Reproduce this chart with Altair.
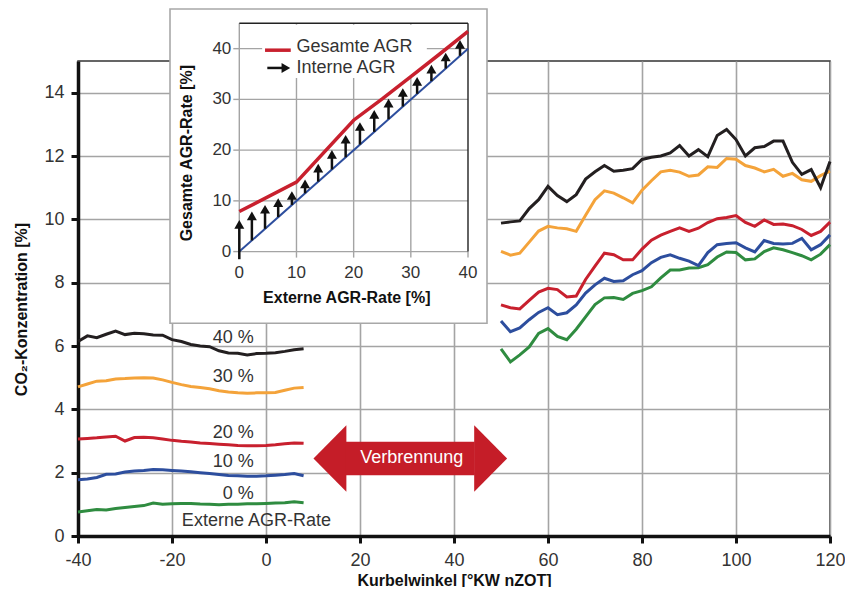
import altair as alt
import pandas as pd

FONT = "Liberation Sans"

# ---------------- main chart data ----------------
X_LEFT = [-40, -38, -36, -34, -32, -30, -28, -26, -24, -22, -20, -18, -16, -14, -12,
          -10, -8, -6, -4, -2, 0, 2, 4, 6, 8]
X_RIGHT = [50, 52, 54, 56, 58, 60, 62, 64, 66, 68, 70, 72, 74, 76, 78, 80, 82, 84,
           86, 88, 90, 92, 94, 96, 98, 100, 102, 104, 106, 108, 110, 112, 114, 116, 118, 120]

S40_L = [6.14, 6.32, 6.26, 6.37, 6.47, 6.36, 6.40, 6.39, 6.35, 6.34, 6.20, 6.14, 6.05,
         6.00, 5.98, 5.85, 5.78, 5.77, 5.72, 5.76, 5.77, 5.79, 5.83, 5.88, 5.91]
S30_L = [4.71, 4.80, 4.89, 4.90, 4.96, 4.97, 4.99, 5.00, 4.99, 4.93, 4.85, 4.78, 4.72,
         4.69, 4.65, 4.59, 4.55, 4.52, 4.51, 4.52, 4.52, 4.53, 4.60, 4.67, 4.69]
S20_L = [3.06, 3.08, 3.10, 3.13, 3.15, 3.00, 3.11, 3.12, 3.10, 3.06, 3.02, 2.99, 2.97,
         2.94, 2.92, 2.90, 2.88, 2.86, 2.85, 2.85, 2.86, 2.88, 2.91, 2.94, 2.93]
S10_L = [1.78, 1.80, 1.85, 1.95, 1.96, 2.02, 2.05, 2.07, 2.10, 2.09, 2.07, 2.05, 2.03,
         2.00, 1.97, 1.94, 1.91, 1.90, 1.89, 1.89, 1.90, 1.92, 1.94, 1.97, 1.90]
S0_L = [0.76, 0.80, 0.84, 0.82, 0.87, 0.90, 0.93, 0.96, 1.04, 1.00, 1.02, 1.03, 1.03,
        1.01, 1.00, 0.99, 1.00, 1.00, 1.02, 1.02, 1.03, 1.04, 1.05, 1.08, 1.05]

S40_R = [9.88, 9.92, 9.95, 10.34, 10.62, 11.04, 10.75, 10.56, 10.78, 11.27, 11.50, 11.70,
         11.52, 11.55, 11.60, 11.89, 11.96, 12.00, 12.10, 12.33, 12.00, 12.20, 11.98, 12.65,
         12.84, 12.52, 12.00, 12.26, 12.30, 12.47, 12.47, 11.80, 11.42, 11.57, 11.00, 11.83]
S30_R = [8.99, 8.87, 8.93, 9.28, 9.63, 9.78, 9.73, 9.70, 9.62, 10.13, 10.62, 10.90, 10.83,
         10.68, 10.52, 10.92, 11.22, 11.50, 11.55, 11.49, 11.36, 11.40, 11.66, 11.64, 11.92,
         11.90, 11.70, 11.62, 11.50, 11.58, 11.36, 11.45, 11.25, 11.20, 11.38, 11.52]
S20_R = [7.30, 7.21, 7.17, 7.44, 7.70, 7.82, 7.78, 7.55, 7.58, 8.10, 8.52, 8.93, 8.88,
         8.72, 8.72, 9.06, 9.34, 9.50, 9.62, 9.73, 9.62, 9.72, 9.90, 10.02, 10.06, 10.12,
         9.90, 9.78, 9.98, 9.84, 9.85, 9.80, 9.68, 9.49, 9.62, 9.91]
S10_R = [6.79, 6.45, 6.57, 6.83, 7.06, 7.21, 6.99, 7.05, 7.30, 7.67, 7.93, 8.14, 8.04,
         8.06, 8.25, 8.38, 8.63, 8.80, 8.88, 8.77, 8.68, 8.54, 8.95, 9.20, 9.24, 9.26, 9.10,
         8.97, 9.33, 9.24, 9.22, 9.24, 9.40, 9.04, 9.20, 9.51]
S0_R = [5.91, 5.50, 5.72, 5.97, 6.40, 6.55, 6.30, 6.20, 6.53, 6.92, 7.31, 7.52, 7.53,
        7.47, 7.66, 7.75, 7.87, 8.15, 8.40, 8.40, 8.46, 8.47, 8.57, 8.81, 8.97, 8.95, 8.72,
        8.75, 8.98, 9.10, 9.04, 8.95, 8.85, 8.72, 8.90, 9.20]

SERIES = ["0 %", "10 %", "20 %", "30 %", "40 %"]
COLORS = ["#2f8c40", "#2d4e9e", "#c8202e", "#f4a33a", "#231f20"]
LEFT_VALUES = [S0_L, S10_L, S20_L, S30_L, S40_L]
RIGHT_VALUES = [S0_R, S10_R, S20_R, S30_R, S40_R]

LABEL_TEXT = ["40 %", "30 %", "20 %", "10 %", "0 %"]
LABEL_X = [-2.6, -2.6, -2.6, -2.6, -2.6]
LABEL_Y = [6.24, 5.01, 3.24, 2.34, 1.34]
EXT_TEXT = ["Externe AGR-Rate"]
EXT_X = [-17.9]
EXT_Y = [0.46]

# "Verbrennung" double arrow: two heads (tip -> base) and a shaft
HEAD_L_X = [10.1, 17.1]
HEAD_R_X = [44.3, 51.3]
HEAD_L_TOP = [2.45, 3.5]
HEAD_L_BOT = [2.45, 1.4]
HEAD_R_TOP = [3.5, 2.45]
HEAD_R_BOT = [1.4, 2.45]
SHAFT_X = [17.0, 44.4]
SHAFT_Y = [1.92, 2.98]
VB_TEXT = ["Verbrennung"]
VB_TX = [31.0]
VB_TY = [2.45]

X_TICKS = [-40, -20, 0, 20, 40, 60, 80, 100, 120]
Y_TICKS = [0, 2, 4, 6, 8, 10, 12, 14]

# ---------------- inset data ----------------
IN_BLUE_X = [0, 40]
IN_BLUE_Y = [0, 40]
IN_RED_X = [0, 10, 20, 25, 30, 35, 40]
IN_RED_Y = [7.9, 13.7, 25.9, 30.1, 34.5, 38.9, 43.4]
ARROW_X = [0, 2.2, 4.5, 6.8, 9.2, 11.5, 13.8, 16.2, 18.6, 21.1, 23.6, 26.1, 28.6, 31.1,
           33.6, 36.1, 38.6]
ARROW_BASE = [-1.5, 2.2, 4.5, 6.8, 9.2, 11.5, 13.8, 16.2, 18.6, 21.1, 23.6, 26.1, 28.6,
              31.1, 33.6, 36.1, 38.6]
ARROW_TIP = [6.2, 7.9, 9.2, 10.5, 11.9, 14.2, 17.3, 20.0, 23.0, 25.5, 27.9, 30.1, 32.2,
             34.4, 36.8, 39.2, 41.7]
IN_X_TICKS = [0, 10, 20, 30, 40]
IN_Y_TICKS = [0, 10, 20, 30, 40]

# ---------------- layout constants (pixels inside the main plot area) ----------------
W, H = 752, 475
PAD_TOP = 53
PAD_BOTTOM = 51
PAD_LEFT = 70
PAD_RIGHT = 15
IN_X_RANGE = [161.3, 390.0]
IN_Y_RANGE = [190.6, -37.7]
IN_X_DOM = [0, 40]
IN_Y_DOM = [0, 45]

RED = "#c8202e"
ARROW_RED = "#c51d28"
GRID = "#a4a4a4"
TXT = "#333333"

# ---------------- main layers ----------------
rows = []
for name, lv, rv in zip(SERIES, LEFT_VALUES, RIGHT_VALUES):
    for x, v in zip(X_LEFT, lv):
        rows.append({"x": x, "y": v, "series": name, "key": name + "L"})
    for x, v in zip(X_RIGHT, rv):
        rows.append({"x": x, "y": v, "series": name, "key": name + "R"})
df = pd.DataFrame(rows)

XS = alt.Scale(domain=[-40, 120], nice=False, zero=False)
YS = alt.Scale(domain=[0, 15], nice=False, zero=False)


def mx(f):
    return alt.X(f, scale=XS, axis=None)


def my(f):
    return alt.Y(f, scale=YS, axis=None)


x_enc = alt.X("x:Q", scale=XS, axis=alt.Axis(
    values=X_TICKS, title="Kurbelwinkel [°KW nZOT]", grid=True, gridColor=GRID,
    gridWidth=1.6, domainColor="#111111", domainWidth=3.5, tickColor="#111111",
    tickWidth=3, tickSize=7, labelPadding=8, labelFontSize=18, labelColor=TXT,
    labelFont=FONT, titleFont=FONT, titleFontSize=16, titleFontWeight="bold",
    titleColor="#111111", titlePadding=3, labelFlush=False, orient="bottom",
    labelExpr="datum.value"))
y_enc = alt.Y("y:Q", scale=YS, axis=alt.Axis(
    values=Y_TICKS, title="CO₂-Konzentration [%]", grid=True, gridColor=GRID,
    gridWidth=1.6, domainColor="#111111", domainWidth=3.5, tickColor="#111111",
    tickWidth=3, tickSize=7, labelPadding=7, labelFontSize=18, labelColor=TXT,
    labelFont=FONT, titleFont=FONT, titleFontSize=16, titleFontWeight="bold",
    titleColor="#111111", titlePadding=14, orient="left", titleY=248))

lines = alt.Chart(df).mark_line(strokeWidth=3).encode(
    x=x_enc, y=y_enc,
    color=alt.Color("series:N", scale=alt.Scale(domain=SERIES, range=COLORS), legend=None),
    detail="key:N")

lab_df = pd.DataFrame({"x": LABEL_X, "y": LABEL_Y, "t": LABEL_TEXT})
labels = alt.Chart(lab_df).mark_text(font=FONT, fontSize=18, color=TXT, align="right",
                                     baseline="middle").encode(
    x=mx("x:Q"), y=my("y:Q"), text="t:N")

ext_df = pd.DataFrame({"x": EXT_X, "y": EXT_Y, "t": EXT_TEXT})
ext = alt.Chart(ext_df).mark_text(font=FONT, fontSize=18, color=TXT, align="left",
                                  baseline="middle").encode(
    x=mx("x:Q"), y=my("y:Q"), text="t:N")

head_l = alt.Chart(pd.DataFrame({"x": HEAD_L_X, "y": HEAD_L_TOP, "y2": HEAD_L_BOT})).mark_area(
    color=ARROW_RED, opacity=1).encode(x=mx("x:Q"), y=my("y:Q"), y2="y2:Q")
head_r = alt.Chart(pd.DataFrame({"x": HEAD_R_X, "y": HEAD_R_TOP, "y2": HEAD_R_BOT})).mark_area(
    color=ARROW_RED, opacity=1).encode(x=mx("x:Q"), y=my("y:Q"), y2="y2:Q")
shaft = alt.Chart(pd.DataFrame({"x": [SHAFT_X[0]], "x2": [SHAFT_X[1]], "y": [SHAFT_Y[0]],
                                "y2": [SHAFT_Y[1]]})).mark_rect(color=ARROW_RED, opacity=1).encode(
    x=mx("x:Q"), x2="x2:Q", y=my("y:Q"), y2="y2:Q")

vbt_df = pd.DataFrame({"x": VB_TX, "y": VB_TY, "t": VB_TEXT})
vbt = alt.Chart(vbt_df).mark_text(font=FONT, fontSize=18, color="white", align="center",
                                  baseline="middle").encode(
    x=mx("x:Q"), y=my("y:Q"), text="t:N")

main_layers = [lines, labels, ext, head_l, head_r, shaft, vbt]

# ---------------- inset layers ----------------
IXS = alt.Scale(domain=IN_X_DOM, range=IN_X_RANGE, nice=False, zero=False)
IYS = alt.Scale(domain=IN_Y_DOM, range=IN_Y_RANGE, nice=False, zero=False)


def ix(f):
    return alt.X(f, scale=IXS, axis=None)


def iy(f):
    return alt.Y(f, scale=IYS, axis=None)


box = alt.Chart(pd.DataFrame({"a": [0]})).mark_rect(
    fill="white", stroke="#a8a8a8", strokeWidth=1.6).encode(
    x=alt.value(92), x2=alt.value(409), y=alt.value(-52.0), y2=alt.value(262.3))

vgrid_df = pd.DataFrame({"x": IN_X_TICKS[:-1], "y0": [IN_Y_DOM[0]] * 4, "y1": [IN_Y_DOM[1]] * 4})
vgrid = alt.Chart(vgrid_df).mark_rule(color=GRID, strokeWidth=1.4).encode(
    x=ix("x:Q"), y=iy("y0:Q"), y2="y1:Q")
hgrid_df = pd.DataFrame({"y": IN_Y_TICKS, "x0": [IN_X_DOM[0]] * 5, "x1": [IN_X_DOM[1]] * 5})
hgrid = alt.Chart(hgrid_df).mark_rule(color=GRID, strokeWidth=1.4).encode(
    y=iy("y:Q"), x=ix("x0:Q"), x2="x1:Q")

ytick = alt.Chart(hgrid_df).mark_rule(color=GRID, strokeWidth=1.4, x2Offset=-6).encode(
    y=iy("y:Q"), x=ix("x0:Q"), x2="x0:Q")
xt_df = pd.DataFrame({"x": IN_X_TICKS, "y0": [IN_Y_DOM[0]] * 5})
xtick = alt.Chart(xt_df).mark_rule(color=GRID, strokeWidth=1.4, y2Offset=6).encode(
    x=ix("x:Q"), y=iy("y0:Q"), y2="y0:Q")

leg_df = pd.DataFrame({"x0": [4.0], "x1": [32.8], "y0": [34.2], "y1": [44.7]})
legbox = alt.Chart(leg_df).mark_rect(fill="white").encode(
    x=ix("x0:Q"), x2="x1:Q", y=iy("y0:Q"), y2="y1:Q")

frame_top = alt.Chart(pd.DataFrame({"y": [IN_Y_DOM[1]], "x0": [IN_X_DOM[0]], "x1": [IN_X_DOM[1]]})).mark_rule(
    color="#222222", strokeWidth=1.4).encode(y=iy("y:Q"), x=ix("x0:Q"), x2="x1:Q")
frame_right = alt.Chart(pd.DataFrame({"x": [IN_X_DOM[1]], "y0": [IN_Y_DOM[0]], "y1": [IN_Y_DOM[1]]})).mark_rule(
    color="#222222", strokeWidth=1.4).encode(x=ix("x:Q"), y=iy("y0:Q"), y2="y1:Q")

ylab_df = pd.DataFrame({"y": IN_Y_TICKS, "x": [IN_X_DOM[0]] * 5, "t": [str(v) for v in IN_Y_TICKS]})
ylabs = alt.Chart(ylab_df).mark_text(font=FONT, fontSize=17, color=TXT, align="right",
                                     baseline="middle", dx=-8).encode(
    x=ix("x:Q"), y=iy("y:Q"), text="t:N")
xlab_df = pd.DataFrame({"x": IN_X_TICKS, "y": [IN_Y_DOM[0]] * 5, "t": [str(v) for v in IN_X_TICKS]})
xlabs = alt.Chart(xlab_df).mark_text(font=FONT, fontSize=17, color=TXT, align="center",
                                     baseline="middle", dy=21).encode(
    x=ix("x:Q"), y=iy("y:Q"), text="t:N")

blue = alt.Chart(pd.DataFrame({"x": IN_BLUE_X, "y": IN_BLUE_Y})).mark_line(
    color="#2d4e9e", strokeWidth=2).encode(x=ix("x:Q"), y=iy("y:Q"))

arr_df = pd.DataFrame({"x": ARROW_X, "b": ARROW_BASE, "t": ARROW_TIP})
shafts = alt.Chart(arr_df).mark_rule(color="#111111", strokeWidth=2.5, y2Offset=6).encode(
    x=ix("x:Q"), y=iy("b:Q"), y2="t:Q")
heads = alt.Chart(arr_df).mark_point(shape="triangle-up", filled=True, color="#111111",
                                     size=100, opacity=1, yOffset=4.3).encode(
    x=ix("x:Q"), y=iy("t:Q"))

red = alt.Chart(pd.DataFrame({"x": IN_RED_X, "y": IN_RED_Y})).mark_line(
    color=RED, strokeWidth=3.5).encode(x=ix("x:Q"), y=iy("y:Q"))

LEG_TEXT = ["Gesamte AGR", "Interne AGR"]
LEG_TX = [10.0, 10.0]
LEG_TY = [40.4, 36.1]
leg_red = alt.Chart(pd.DataFrame({"x0": [4.5], "x1": [9.0], "y": [39.7]})).mark_rule(
    color=RED, strokeWidth=3.5).encode(x=ix("x0:Q"), x2="x1:Q", y=iy("y:Q"))
leg_shaft = alt.Chart(pd.DataFrame({"x0": [4.9], "x1": [8.9], "y": [36.2]})).mark_rule(
    color="#111111", strokeWidth=2.5, x2Offset=-6).encode(x=ix("x0:Q"), x2="x1:Q", y=iy("y:Q"))
leg_head = alt.Chart(pd.DataFrame({"x": [8.9], "y": [36.2]})).mark_point(
    shape="triangle-right", filled=True, color="#111111", size=100, opacity=1,
    xOffset=-4.3).encode(x=ix("x:Q"), y=iy("y:Q"))
leg_txt = alt.Chart(pd.DataFrame({"x": LEG_TX, "y": LEG_TY, "t": LEG_TEXT})).mark_text(
    font=FONT, fontSize=18, color=TXT, align="left", baseline="middle").encode(
    x=ix("x:Q"), y=iy("y:Q"), text="t:N")

IN_TITLE_Y = ["Gesamte AGR-Rate [%]"]
IN_TITLE_X = ["Externe AGR-Rate [%]"]
ttl_y = alt.Chart(pd.DataFrame({"x": [-9.1], "y": [19.4], "t": IN_TITLE_Y})).mark_text(
    font=FONT, fontSize=16, fontWeight="bold", color="#111111", angle=270,
    align="center", baseline="middle").encode(x=ix("x:Q"), y=iy("y:Q"), text="t:N")
ttl_x = alt.Chart(pd.DataFrame({"x": [18.8], "y": [-9.2], "t": IN_TITLE_X})).mark_text(
    font=FONT, fontSize=16, fontWeight="bold", color="#111111",
    align="center", baseline="middle").encode(x=ix("x:Q"), y=iy("y:Q"), text="t:N")

inset_layers = [box, vgrid, hgrid, ytick, xtick, legbox, frame_top, frame_right,
                ylabs, xlabs, blue, shafts, heads, red, leg_red, leg_shaft, leg_head,
                leg_txt, ttl_y, ttl_x]

chart = alt.layer(*main_layers, *inset_layers).resolve_scale(
    x="independent", y="independent").properties(
    width=W, height=H,
    autosize=alt.AutoSizeParams(type="none"),
    padding={"left": PAD_LEFT, "top": PAD_TOP, "right": PAD_RIGHT, "bottom": PAD_BOTTOM},
    background="white",
).configure_view(stroke="#333333", strokeWidth=1.5)

chart.save("out.html", embed_options={"renderer": "svg", "actions": False})
